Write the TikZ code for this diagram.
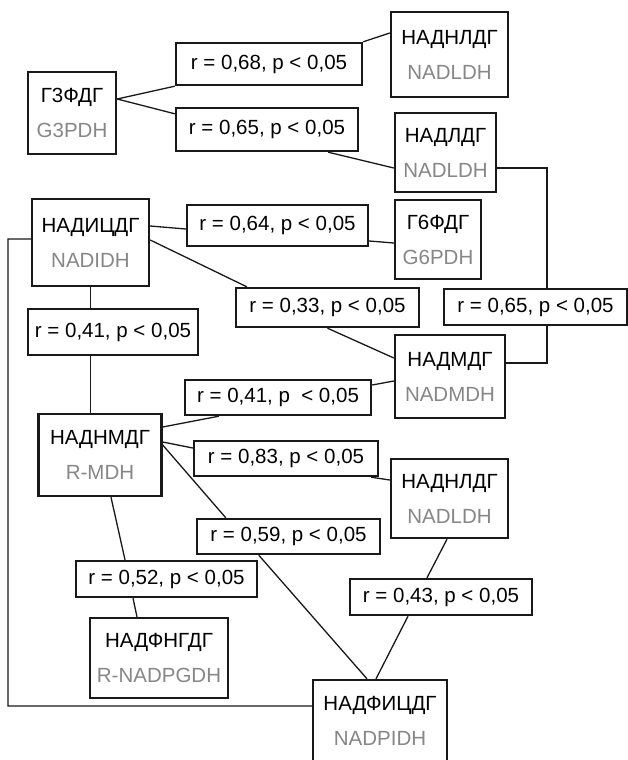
\documentclass[tikz,border=0pt]{standalone}
\usepackage{fontspec}
\setmainfont{Liberation Sans}
\definecolor{txtgray}{RGB}{135,135,135}
\begin{document}
\begin{tikzpicture}[x=1bp,y=-1bp,
  ebox/.style={draw=black!90, line width=2.4bp, inner sep=0pt, align=center,
     font=\fontsize{20.5bp}{35bp}\selectfont},
  lbox/.style={draw=black!90, line width=2.4bp, inner sep=0pt,
     font=\fontsize{20.5bp}{24bp}\selectfont},
  conn/.style={line width=1.3bp, draw=black!90}]
\clip (0,0) rectangle (628,760);
\fill[white] (0,0) rectangle (628,760);
% enzyme boxes
\node[ebox, minimum width=88bp, minimum height=82bp] (g3) at (72,113) {Г3ФДГ\\\textcolor{txtgray}{G3PDH}};
\node[ebox, minimum width=117bp, minimum height=85bp] (n1) at (449.5,54.5) {НАДНЛДГ\\\textcolor{txtgray}{NADLDH}};
\node[ebox, minimum width=101bp, minimum height=79bp] (n2) at (445.5,152.5) {НАДЛДГ\\\textcolor{txtgray}{NADLDH}};
\node[ebox, minimum width=117bp, minimum height=87bp] (n3) at (90.5,242.5) {НАДИЦДГ\\\textcolor{txtgray}{NADIDH}};
\node[ebox, minimum width=86bp, minimum height=79bp] (g6) at (438,239.5) {Г6ФДГ\\\textcolor{txtgray}{G6PDH}};
\node[ebox, minimum width=110bp, minimum height=83bp] (nm) at (450,376.5) {НАДМДГ\\\textcolor{txtgray}{NADMDH}};
\node[ebox, minimum width=123bp, minimum height=82bp] (nh) at (100,455) {НАДНМДГ\\\textcolor{txtgray}{R-MDH}};
\node[ebox, minimum width=117bp, minimum height=79bp] (n8) at (449.5,498.5) {НАДНЛДГ\\\textcolor{txtgray}{NADLDH}};
\node[ebox, minimum width=138bp, minimum height=80bp] (n9) at (159,658) {НАДФНГДГ\\\textcolor{txtgray}{R-NADPGDH}};
\node[ebox, minimum width=134bp, minimum height=82bp] (np) at (380,721) {НАДФИЦДГ\\\textcolor{txtgray}{NADPIDH}};
% label boxes
\node[lbox, minimum width=186bp, minimum height=42bp] (l1) at (269,64) {r = 0,68, p < 0,05};
\node[lbox, minimum width=182bp, minimum height=43bp] (l2) at (267,129.5) {r = 0,65, p < 0,05};
\node[lbox, minimum width=181bp, minimum height=41bp] (l3) at (277.5,225.5) {r = 0,64, p < 0,05};
\node[lbox, minimum width=183bp, minimum height=39bp] (l4) at (327.5,307.5) {r = 0,33, p < 0,05};
\node[lbox, minimum width=183bp, minimum height=36bp] (l5) at (535.5,307) {r = 0,65, p < 0,05};
\node[lbox, minimum width=170bp, minimum height=46bp] (l6) at (113,332) {r = 0,41, p < 0,05};
\node[lbox, minimum width=186bp, minimum height=35bp] (l7) at (278,397.5) {r = 0,41, p~~< 0,05};
\node[lbox, minimum width=184bp, minimum height=35bp] (l8) at (286,458.5) {r = 0,83, p < 0,05};
\node[lbox, minimum width=183bp, minimum height=35bp] (l9) at (288.5,536.5) {r = 0,59, p < 0,05};
\node[lbox, minimum width=181bp, minimum height=36bp] (l10) at (166.5,579) {r = 0,52, p < 0,05};
\node[lbox, minimum width=182bp, minimum height=36bp] (l11) at (441,597) {r = 0,43, p < 0,05};
\coordinate (lft) at (8,706);
% connectors
\draw[conn] ([yshift=14bp]g3.east) -- (l1.south west);
\draw[conn] ([yshift=14bp]g3.east) -- ([yshift=-7bp]l2.north west);
\draw[conn] (l1.north east) -- ([yshift=21.5bp]n1.west);
\draw[conn] ([xshift=-31bp]l2.south east) -- ([yshift=-15.5bp]n2.west);
\draw[conn] ([yshift=-15.5bp]n2.east) -| ([xshift=11.5bp]l5.north);
\draw[conn] ([xshift=11.5bp]l5.south) |- ([yshift=13.5bp]nm.east);
\draw[conn] ([yshift=16.5bp]n3.east) -- ([yshift=-3.5bp]l3.west);
\draw[conn] ([yshift=-15.5bp]l3.east) -- ([yshift=-3.5bp]g6.west);
\draw[conn] ([yshift=2.5bp]n3.east) -- ([xshift=12bp]l4.north west);
\draw[conn] (l4.south) -- ([yshift=18.5bp]nm.west);
\draw[conn] (n3.south) -- (n3.south |- l6.north);
\draw[conn] (n3.south |- l6.south) -- (n3.south |- nh.north);
\draw[conn] ([yshift=3.5bp]n3.west) -| (lft) -- ([yshift=15bp]np.west);
\draw[conn] ([yshift=28bp]nh.east) -- ([xshift=35bp]l7.south west);
\draw[conn] ([yshift=12.5bp]l7.east) -- ([yshift=-4.5bp]nm.west);
\draw[conn] ([yshift=13bp]nh.east) -- ([yshift=10.5bp]l8.west);
\draw[conn] ([xshift=-8bp]l8.south east) -- ([yshift=18.5bp]n8.west);
\draw[conn] ([yshift=10bp]nh.east) -- ([xshift=30bp]l9.north west);
\draw[conn] ([xshift=63bp]l9.south west) -- ([xshift=-13bp]np.north);
\draw[conn] ([xshift=-2.5bp]n8.south) -- ([xshift=-14bp]l11.north);
\draw[conn] ([xshift=-33bp]l11.south) -- ([xshift=-4bp]np.north);
\draw[conn] ([xshift=11bp]nh.south) -- ([xshift=-41.5bp]l10.north);
\draw[conn] ([xshift=-33.5bp]l10.south) -- ([xshift=-22bp]n9.north);
\end{tikzpicture}
\end{document}
